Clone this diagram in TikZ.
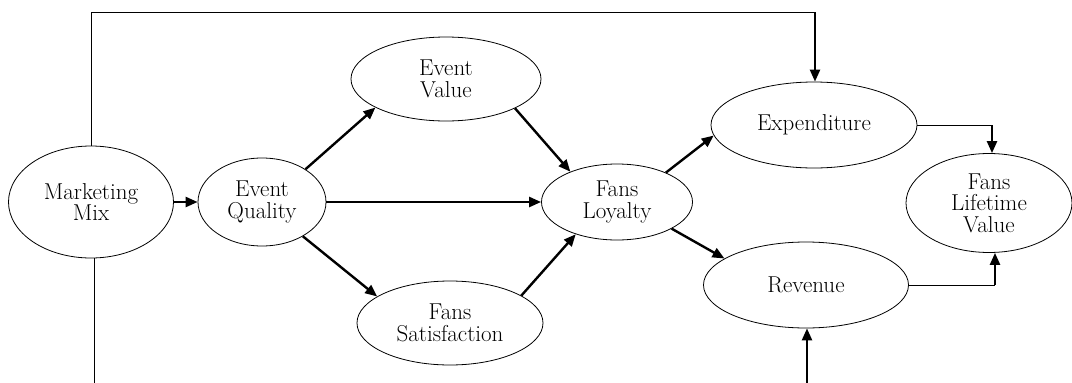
\documentclass[tikz,border=0pt]{standalone}
\usetikzlibrary{shapes.geometric,arrows.meta}
\begin{document}
\begin{tikzpicture}[x=1pt,y=-1pt,
  oval/.style={draw=black,line width=0.8pt,ellipse,inner sep=0pt,align=center,
    font=\fontsize{23}{21.5}\selectfont},
  thinline/.style={draw=black,line width=1pt},
  thickarrow/.style={draw=black,line width=2.4pt,-{Triangle[length=12pt,width=10pt]}},
]
\useasboundingbox (0,0) rectangle (1072,383);
\node[oval,minimum width=165pt,minimum height=112pt] (mm) at (91,202) {Marketing\\Mix};
\node[oval,minimum width=128pt,minimum height=88pt] (eq) at (262,202) {Event\\Quality};
\node[oval,minimum width=190pt,minimum height=84pt] (ev) at (446,79) {Event\\Value};
\node[oval,minimum width=186pt,minimum height=84pt] (fs) at (450,323) {Fans\\Satisfaction};
\node[oval,minimum width=151pt,minimum height=76pt] (fl) at (617,202) {Fans\\Loyalty};
\node[oval,minimum width=206pt,minimum height=86pt] (ex) at (814,125) {Expenditure};
\node[oval,minimum width=205pt,minimum height=86pt] (rv) at (806,285) {Revenue};
\node[oval,minimum width=166pt,minimum height=99pt] (fv) at (989,203) {Fans\\Lifetime\\Value};

\coordinate (tl) at (91,12);
\coordinate (tr) at (815,12);
\coordinate (bl) at (94,383);
\coordinate (br) at (807,383);
\coordinate (ea) at (992,125);
\coordinate (ra) at (995,285);

% top loop
\draw[thinline] (mm.north) -- (tl) -- (tr);
\draw[thickarrow] (tr) -- (tr |- ex.north);
% bottom stubs
\draw[thinline] (mm.south -| bl) -- (bl);
\draw[thickarrow] (br) -- (br |- rv.south);

\draw[thickarrow] (mm.east) -- (eq.west);
\draw[thickarrow] (eq.east) -- (fl.west);
\draw[thickarrow] (eq.37) -- (ev.202);
\draw[thickarrow] (eq.320) -- (fs.160);
\draw[thickarrow] (ev.337) -- (fl.147);
\draw[thickarrow] (fs.21) -- (fl.218);
\draw[thickarrow] (fl.31) -- (ex.186);
\draw[thickarrow] (fl.334) -- (rv.162);

\draw[thinline] (ex.east) -- (ea);
\draw[thickarrow] (ea) -- (ea |- fv.north);
\draw[thinline] (rv.east) -- (ra);
\draw[thickarrow] (ra) -- (ra |- fv.south);
\end{tikzpicture}
\end{document}
